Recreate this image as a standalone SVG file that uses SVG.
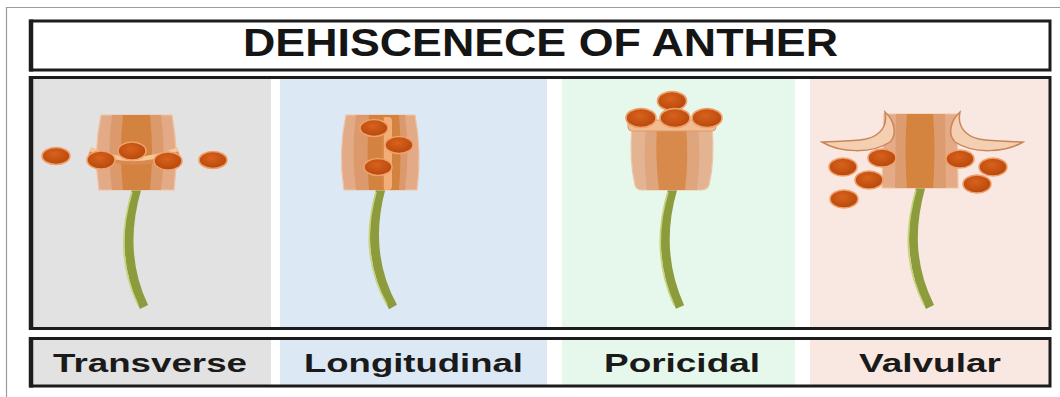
<svg xmlns="http://www.w3.org/2000/svg" width="1060" height="397" viewBox="0 0 1060 397">
  <defs>
    <radialGradient id="pollenFill" cx="45%" cy="38%" r="65%">
      <stop offset="0" stop-color="#d9621c"/>
      <stop offset="1" stop-color="#b4460c"/>
    </radialGradient>
    <style>
      .frame { fill: none; stroke: #1c1c1c; stroke-width: 3; }
      .frame-left { stroke: #1c1c1c; stroke-width: 4.5; }
      .title { font-family: "Liberation Sans", Arial, sans-serif; font-weight: 700; font-size: 38px; fill: #151515; }
      .label { font-family: "Liberation Sans", Arial, sans-serif; font-weight: 700; font-size: 25px; fill: #1a1a1a; }
      .stem { fill: none; stroke: #8c9b3b; stroke-width: 9; stroke-linecap: butt; }
      .stem-hi { fill: none; stroke: #c8d47f; stroke-width: 1.6; }
      .anther { fill: #e2aa86; stroke: #efc3a3; stroke-width: 1.2; }
      .mid { fill: #dc9a6c; }
      .core { fill: #d3823f; }
      .pollen { fill: url(#pollenFill); stroke: #f0a06a; stroke-width: 1.6; }
      .valve { fill: #f5cfb2; stroke: #c98558; stroke-width: 1.5; }
    </style>
  </defs>

  <!-- page edge -->
  <rect x="0" y="0" width="1060" height="397" fill="#ffffff"/>
  <path d="M6.5 397 V7.5 H1060" fill="none" stroke="#9c9c9c" stroke-width="1.2"/>

  <!-- title bar -->
  <g id="title">
    <rect x="31" y="21" width="1019" height="49" fill="#ffffff" class="frame"/>
    <line x1="31" y1="19.5" x2="31" y2="71.5" class="frame-left"/>
    <text x="540.5" y="55.5" text-anchor="middle" class="title" textLength="595" lengthAdjust="spacingAndGlyphs">DEHISCENECE OF ANTHER</text>
  </g>

  <!-- column backgrounds, picture row and label row -->
  <g id="backgrounds">
    <rect x="32" y="78" width="239" height="250" fill="#e2e2e2"/>
    <rect x="280" y="78" width="267" height="250" fill="#dce8f4"/>
    <rect x="562" y="78" width="233" height="250" fill="#e6f8eb"/>
    <rect x="810" y="78" width="240" height="250" fill="#f8e8e1"/>
    <rect x="32" y="339" width="239" height="47" fill="#e2e2e2"/>
    <rect x="280" y="339" width="267" height="47" fill="#dce8f4"/>
    <rect x="562" y="339" width="233" height="47" fill="#e6f8eb"/>
    <rect x="810" y="339" width="240" height="47" fill="#f8e8e1"/>
  </g>

  <!-- Transverse -->
  <g id="transverse">
    <path class="stem" d="M137 188 C126 225 124 265 144 307"/>
    <path class="stem-hi" d="M132 192 C121 228 119 265 138 305"/>
    <path class="anther" d="M101 115 L172 115 Q179 152 174 190 L99 190 Q93 152 101 115 Z"/>
    <path class="mid" d="M112 115 L161 115 Q166 152 161 190 L112 190 Q107 152 112 115 Z"/>
    <path class="core" d="M123 115 L150 115 Q154 152 150 190 L123 190 Q119 152 123 115 Z"/>
    <path d="M90 151 Q132 171 178 151" fill="none" stroke="#d98a52" stroke-width="8"/>
    <path d="M90 149 Q132 169 178 149" fill="none" stroke="#f6c697" stroke-width="4.5"/>
    <ellipse class="pollen" cx="56" cy="156" rx="14" ry="8.5"/>
    <ellipse class="pollen" cx="101" cy="160" rx="14" ry="9"/>
    <ellipse class="pollen" cx="132" cy="151" rx="14" ry="9"/>
    <ellipse class="pollen" cx="168" cy="161" rx="14" ry="9"/>
    <ellipse class="pollen" cx="213" cy="160" rx="14" ry="8.5"/>
  </g>

  <!-- Longitudinal -->
  <g id="longitudinal">
    <path class="stem" d="M381 188 C371 225 370 265 393 307"/>
    <path class="stem-hi" d="M376 192 C366 228 365 265 387 305"/>
    <path class="anther" d="M346 115 L415 115 Q422 152 417 190 L344 190 Q338 152 346 115 Z"/>
    <path class="mid" d="M356 115 L405 115 Q410 152 405 190 L356 190 Q351 152 356 115 Z"/>
    <path class="core" d="M369 115 L399 115 Q402 152 399 190 L369 190 Q366 152 369 115 Z"/>
    <rect x="382" y="117" width="10" height="73" rx="4" fill="#f2ae74"/>
    <line x1="383" y1="118" x2="383" y2="189" stroke="#c9722f" stroke-width="1.2"/>
    <ellipse class="pollen" cx="374" cy="128" rx="14" ry="8.5"/>
    <ellipse class="pollen" cx="399" cy="145" rx="14" ry="8.5"/>
    <ellipse class="pollen" cx="378" cy="167" rx="14" ry="8.5"/>
  </g>

  <!-- Poricidal -->
  <g id="poricidal">
    <path class="stem" d="M673 188 C662 225 661 265 680 307"/>
    <path class="stem-hi" d="M668 192 C657 228 656 265 674 305"/>
    <path d="M632 126 L712 126 Q715 160 709 185 Q707 190 701 190 L642 190 Q636 190 635 185 Q629 160 632 126 Z" fill="#e4b391" stroke="#efc6a8" stroke-width="1.2"/>
    <path d="M646 126 L698 126 Q701 160 697 190 L647 190 Q643 160 646 126 Z" fill="#dfa57d"/>
    <path d="M657 126 L686 126 Q689 160 685 190 L659 190 Q655 160 657 126 Z" fill="#d88a4c"/>
    <rect x="628" y="120" width="88" height="11" rx="4" fill="#f2bb90" stroke="#e09a68" stroke-width="1"/>
    <ellipse class="pollen" cx="672" cy="101" rx="14.5" ry="9.5"/>
    <ellipse class="pollen" cx="641" cy="118" rx="15" ry="9.5"/>
    <ellipse class="pollen" cx="675" cy="118" rx="15" ry="9.5"/>
    <ellipse class="pollen" cx="707" cy="118" rx="15" ry="9.5"/>
  </g>

  <!-- Valvular -->
  <g id="valvular">
    <path class="stem" d="M921 186 C910 225 909 265 930 307"/>
    <path class="stem-hi" d="M916 190 C905 228 904 265 924 305"/>
    <path d="M884 114 L957 114 L958 188 L882 188 Z" fill="#e4ab86" stroke="#efc3a3" stroke-width="1.2"/>
    <path d="M896 114 L945 114 L946 188 L895 188 Z" fill="#dd9c70"/>
    <path d="M907 114 L933 114 Q936 151 933 188 L907 188 Q904 151 907 114 Z" fill="#d4843f"/>
    <path class="valve" d="M822 142 C840 153 872 154 890 142 C898 134 894 120 885 112 C888 126 880 136 866 139 C850 142 834 141 822 142 Z"/>
    <path class="valve" transform="translate(1845 0) scale(-1 1)" d="M822 142 C840 153 872 154 890 142 C898 134 894 120 885 112 C888 126 880 136 866 139 C850 142 834 141 822 142 Z"/>
    <ellipse class="pollen" cx="882" cy="158" rx="14" ry="9"/>
    <ellipse class="pollen" cx="843" cy="167" rx="14" ry="9"/>
    <ellipse class="pollen" cx="869" cy="180" rx="14" ry="9"/>
    <ellipse class="pollen" cx="844" cy="199" rx="14" ry="9"/>
    <ellipse class="pollen" cx="960" cy="159" rx="14" ry="9"/>
    <ellipse class="pollen" cx="993" cy="167" rx="14" ry="9"/>
    <ellipse class="pollen" cx="977" cy="184" rx="14" ry="9"/>
  </g>

  <!-- picture frame and label frame -->
  <g id="frames">
    <rect x="31" y="77.5" width="1019" height="251" class="frame"/>
    <line x1="31" y1="76" x2="31" y2="330" class="frame-left"/>
    <rect x="31" y="338.5" width="1019" height="47.5" class="frame"/>
    <line x1="31" y1="337" x2="31" y2="387.5" class="frame-left"/>
  </g>

  <!-- labels -->
  <g id="label-transverse"><text x="150" y="372" text-anchor="middle" class="label" textLength="194" lengthAdjust="spacingAndGlyphs">Transverse</text></g>
  <g id="label-longitudinal"><text x="413.5" y="372" text-anchor="middle" class="label" textLength="219" lengthAdjust="spacingAndGlyphs">Longitudinal</text></g>
  <g id="label-poricidal"><text x="682" y="372" text-anchor="middle" class="label" textLength="156" lengthAdjust="spacingAndGlyphs">Poricidal</text></g>
  <g id="label-valvular"><text x="930" y="372" text-anchor="middle" class="label" textLength="142" lengthAdjust="spacingAndGlyphs">Valvular</text></g>
</svg>
